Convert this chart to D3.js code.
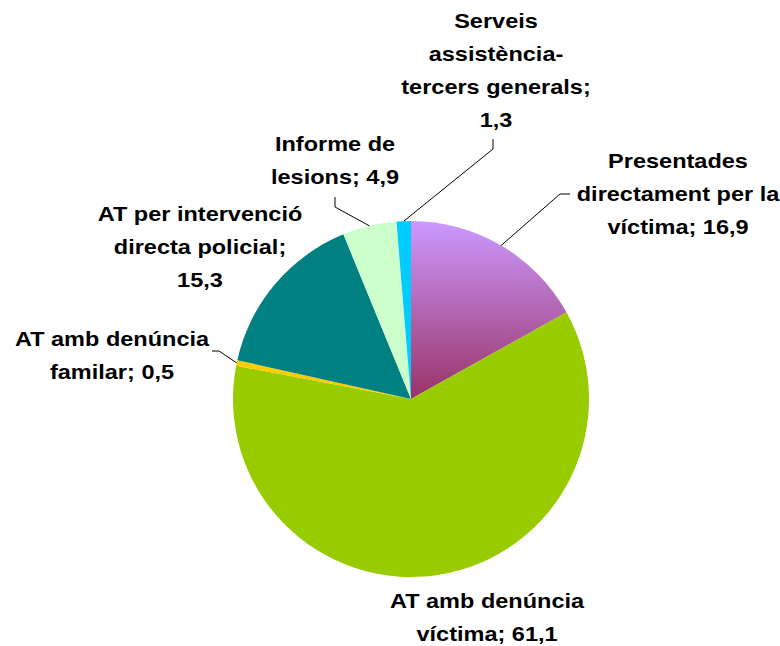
<!DOCTYPE html>
<html>
<head>
<meta charset="utf-8">
<script src="https://cdnjs.cloudflare.com/ajax/libs/d3/7.8.5/d3.min.js"></script>
<style>
	body { margin: 0; background: #fff; }
	text { font-family: "Liberation Sans", Arial, sans-serif; font-weight: bold; font-size: 21px; fill: #000; }
</style>
</head>
<body>
<script>
(function() {

	var width = 780;
	var height = 646;

	// data, clockwise from 12 o'clock
	var categories = ['Presentades directament per la víctima', 'AT amb denúncia víctima', 'AT amb denúncia familar',
		'AT per intervenció directa policial', 'Informe de lesions', 'Serveis assistència-tercers generals'];
	var values = [16.9, 61.1, 0.5, 15.3, 4.9, 1.3];
	var labelLines = [
		['Presentades', 'directament per la', 'víctima; 16,9'],
		['AT amb denúncia', 'víctima; 61,1'],
		['AT amb denúncia', 'familar; 0,5'],
		['AT per intervenció', 'directa policial;', '15,3'],
		['Informe de', 'lesions; 4,9'],
		['Serveis', 'assistència-', 'tercers generals;', '1,3']
	];
	var colors = ['url(#purpleGrad)', '#99cc00', '#ffcc00', '#008080', '#ccffcc', '#00ccff'];

	// label layout: centre x, first baseline y, leader elbow (null = no leader)
	var labelPos = [
		{x: 678, y: 168, tick: [[570, 194], [560, 194]]},
		{x: 487, y: 608, tick: null},
		{x: 112, y: 346, tick: [[212, 351], [219, 351]]},
		{x: 200, y: 221, tick: null},
		{x: 335, y: 151, tick: [[335, 197], [335, 207]]},
		{x: 496, y: 28, tick: [[493, 139], [493, 149]]}
	];
	var lineHeight = 33;
	var stretch = 1.12;

	var cx = 411, cy = 399, radius = 178;

	var svg = d3.select('body')
		.append('svg')
			.attr('width', width)
			.attr('height', height);

	var grad = svg.append('defs')
		.append('linearGradient')
			.attr('id', 'purpleGrad')
			.attr('x1', 0).attr('y1', 0)
			.attr('x2', 0).attr('y2', 1);
	grad.append('stop').attr('offset', '0%').attr('stop-color', '#cc99ff');
	grad.append('stop').attr('offset', '100%').attr('stop-color', '#993366');

	var pie = d3.pie().sort(null).value(function(d) { return d; });
	var arcs = pie(values);

	var arc = d3.arc().innerRadius(0).outerRadius(radius);
	var edge = d3.arc().innerRadius(radius).outerRadius(radius);

	var g = svg.append('g').attr('transform', 'translate(' + cx + ',' + cy + ')');

	g.selectAll('path')
		.data(arcs)
		.enter()
		.append('path')
			.attr('d', arc)
			.style('fill', function(d, i) { return colors[i]; });

	// leader lines
	arcs.forEach(function(d, i) {
		var p = labelPos[i];
		if (!p.tick) return;
		var c = edge.centroid(d);
		var pts = [[p.tick[0][0], p.tick[0][1]], [p.tick[1][0], p.tick[1][1]], [c[0] + cx, c[1] + cy]];
		svg.append('path')
			.attr('d', d3.line()(pts))
			.style('fill', 'none')
			.style('stroke', '#000')
			.style('stroke-width', 1);
	});

	// labels
	labelLines.forEach(function(lines, i) {
		var p = labelPos[i];
		var lg = svg.append('g')
			.attr('transform', 'translate(' + p.x + ',' + p.y + ') scale(' + stretch + ',1)');
		lines.forEach(function(t, j) {
			lg.append('text')
				.attr('x', 0)
				.attr('y', j * lineHeight)
				.attr('text-anchor', 'middle')
				.text(t);
		});
	});

})();
</script>
</body>
</html>
